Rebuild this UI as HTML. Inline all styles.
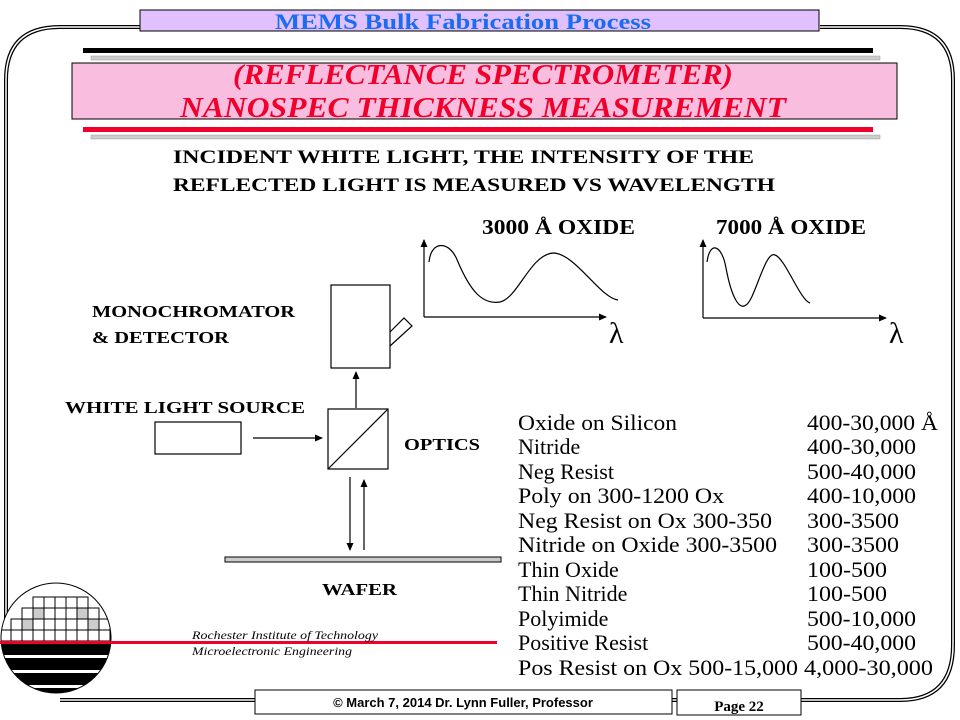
<!DOCTYPE html>
<html><head><meta charset="utf-8"><style>
html,body{margin:0;padding:0;background:#fff}
svg{display:block}
</style></head><body>
<svg width="960" height="720" viewBox="0 0 960 720" xmlns="http://www.w3.org/2000/svg" font-family="'Liberation Serif', 'Times New Roman', serif">
<defs>
<marker id="ar" markerWidth="8" markerHeight="8" refX="7" refY="4" orient="auto" markerUnits="userSpaceOnUse"><path d="M0,0.5 L8,4 L0,7.5z" fill="#000"/></marker>
<clipPath id="wc"><circle cx="56" cy="638" r="55"/></clipPath>
</defs>
<!-- frame -->
<path d="M60,700 L900,700 Q953,700 953,645 L953,80 Q953,27 900,27 L820,27 M140,27 L60,27 Q6,27 6,80 L6,645" fill="none" stroke="#000" stroke-width="4"/>
<path d="M60,700 L900,700 Q953,700 953,645 L953,80 Q953,27 900,27 L820,27 M140,27 L60,27 Q6,27 6,80 L6,645" fill="none" stroke="#fff" stroke-width="1.5"/>
<!-- title -->
<rect x="140" y="10" width="679" height="21" fill="#e0c0ff" stroke="#000" stroke-width="1"/>
<text x="275" y="29" font-family="Liberation Serif, serif" font-weight="bold" font-size="22" fill="#1a6cf0" textLength="376" lengthAdjust="spacingAndGlyphs">MEMS Bulk Fabrication Process</text>
<rect x="83" y="48" width="790" height="5" fill="#000"/>
<rect x="91" y="56" width="789" height="4" fill="#ccc" stroke="#999" stroke-width="0.5"/>
<rect x="72" y="63" width="825" height="56" fill="#f9bde0" stroke="#000" stroke-width="1"/>
<text x="483" y="84" text-anchor="middle" font-family="Liberation Serif, serif" font-weight="bold" font-style="italic" font-size="29" fill="#f0002a" textLength="500" lengthAdjust="spacingAndGlyphs">(REFLECTANCE SPECTROMETER)</text>
<text x="483" y="117" text-anchor="middle" font-family="Liberation Serif, serif" font-weight="bold" font-style="italic" font-size="29" fill="#f0002a" textLength="606" lengthAdjust="spacingAndGlyphs">NANOSPEC THICKNESS MEASUREMENT</text>
<rect x="83" y="127" width="790" height="5" fill="#f0002a"/>
<rect x="91" y="135" width="789" height="4" fill="#ccc" stroke="#999" stroke-width="0.5"/>
<g font-family="Liberation Serif, serif" font-weight="bold">
<text x="173" y="163" font-size="19" textLength="581" lengthAdjust="spacingAndGlyphs">INCIDENT WHITE LIGHT, THE INTENSITY OF THE</text>
<text x="173" y="191" font-size="19" textLength="602" lengthAdjust="spacingAndGlyphs">REFLECTED LIGHT IS MEASURED VS WAVELENGTH</text>
<text x="482" y="234" font-size="21" textLength="153" lengthAdjust="spacingAndGlyphs">3000 Å OXIDE</text>
<text x="716" y="234" font-size="21" textLength="150" lengthAdjust="spacingAndGlyphs">7000 Å OXIDE</text>
<text x="92" y="317" font-size="17" textLength="203" lengthAdjust="spacingAndGlyphs">MONOCHROMATOR</text>
<text x="92" y="343" font-size="17" textLength="137" lengthAdjust="spacingAndGlyphs">&amp; DETECTOR</text>
<text x="65" y="413" font-size="17" textLength="240" lengthAdjust="spacingAndGlyphs">WHITE  LIGHT SOURCE</text>
<text x="404" y="450" font-size="17" textLength="76" lengthAdjust="spacingAndGlyphs">OPTICS</text>
<text x="322" y="595" font-size="17" textLength="75" lengthAdjust="spacingAndGlyphs">WAFER</text>
</g>
<!-- graphs -->
<g fill="none" stroke="#000" stroke-width="1.2">
<line x1="424" y1="317" x2="424" y2="240" marker-end="url(#ar)"/>
<line x1="424" y1="317" x2="606" y2="317" marker-end="url(#ar)"/>
<path d="M429,262 C431,240 450,240 458,262 C470,290 482,305 500,302 C518,298 530,255 553,253 C575,253 600,298 618,300"/>
<line x1="703" y1="318" x2="703" y2="240" marker-end="url(#ar)"/>
<line x1="703" y1="318" x2="886" y2="318" marker-end="url(#ar)"/>
<path d="M707,262 C710,240 722,245 726,268 C732,300 740,310 746,305 C755,300 765,250 775,255 C785,258 800,300 810,303"/>
<rect x="331" y="285" width="59" height="83"/>
<path d="M390,332 L404,318 L412,326 L390,346"/>
<rect x="328" y="409" width="60" height="60"/>
<line x1="328" y1="469" x2="388" y2="409"/>
<rect x="155" y="422" width="86" height="32"/>
<line x1="356" y1="408" x2="356" y2="372" marker-end="url(#ar)"/>
<line x1="253" y1="438" x2="322" y2="438" marker-end="url(#ar)"/>
<line x1="350" y1="477" x2="350" y2="550" marker-end="url(#ar)"/>
<line x1="364" y1="550" x2="364" y2="480" marker-end="url(#ar)"/>
</g>
<rect x="225" y="557" width="276" height="5" fill="#ccc" stroke="#000" stroke-width="1"/>
<text x="609" y="343" font-family="Liberation Serif, serif" font-size="30">λ</text>
<text x="889" y="343" font-family="Liberation Serif, serif" font-size="30">λ</text>
<!-- table -->
<g font-family="Liberation Serif, serif" font-size="22">
<text x="518" y="430" textLength="159" lengthAdjust="spacingAndGlyphs">Oxide on Silicon</text><text x="807" y="430" textLength="131" lengthAdjust="spacingAndGlyphs">400-30,000 Å</text>
<text x="518" y="454">Nitride</text><text x="807" y="454" textLength="109" lengthAdjust="spacingAndGlyphs">400-30,000</text>
<text x="518" y="479">Neg Resist</text><text x="807" y="479" textLength="109" lengthAdjust="spacingAndGlyphs">500-40,000</text>
<text x="518" y="503" textLength="206" lengthAdjust="spacingAndGlyphs">Poly on 300-1200 Ox</text><text x="807" y="503" textLength="109" lengthAdjust="spacingAndGlyphs">400-10,000</text>
<text x="518" y="528" textLength="254" lengthAdjust="spacingAndGlyphs">Neg Resist on Ox 300-350</text><text x="807" y="528" textLength="92" lengthAdjust="spacingAndGlyphs">300-3500</text>
<text x="518" y="552" textLength="259" lengthAdjust="spacingAndGlyphs">Nitride on Oxide 300-3500</text><text x="807" y="552" textLength="92" lengthAdjust="spacingAndGlyphs">300-3500</text>
<text x="518" y="577">Thin Oxide</text><text x="807" y="577" textLength="80" lengthAdjust="spacingAndGlyphs">100-500</text>
<text x="518" y="601">Thin Nitride</text><text x="807" y="601" textLength="80" lengthAdjust="spacingAndGlyphs">100-500</text>
<text x="518" y="626">Polyimide</text><text x="807" y="626" textLength="109" lengthAdjust="spacingAndGlyphs">500-10,000</text>
<text x="518" y="650">Positive Resist</text><text x="807" y="650" textLength="109" lengthAdjust="spacingAndGlyphs">500-40,000</text>
<text x="518" y="675" textLength="280" lengthAdjust="spacingAndGlyphs">Pos Resist on Ox 500-15,000</text><text x="804" y="675" textLength="129" lengthAdjust="spacingAndGlyphs">4,000-30,000</text>
</g>
<!-- wafer logo -->
<g clip-path="url(#wc)">
<rect x="0" y="580" width="120" height="120" fill="#fff"/>
<g fill="#fff" stroke="#000" stroke-width="1">
<rect x="33" y="597" width="11" height="11"/><rect x="44" y="597" width="11" height="11"/><rect x="55" y="597" width="11" height="11"/><rect x="66" y="597" width="11" height="11"/><rect x="77" y="597" width="11" height="11"/>
<rect x="22" y="608" width="11" height="11"/><rect x="33" y="608" width="11" height="11" fill="#ccc"/><rect x="44" y="608" width="11" height="11"/><rect x="55" y="608" width="11" height="11"/><rect x="66" y="608" width="11" height="11"/><rect x="77" y="608" width="11" height="11" fill="#ccc"/><rect x="88" y="608" width="11" height="11"/>
<rect x="11" y="619" width="11" height="11"/><rect x="22" y="619" width="11" height="11" fill="#ccc"/><rect x="33" y="619" width="11" height="11"/><rect x="44" y="619" width="11" height="11"/><rect x="55" y="619" width="11" height="11"/><rect x="66" y="619" width="11" height="11"/><rect x="77" y="619" width="11" height="11"/><rect x="88" y="619" width="11" height="11" fill="#ccc"/><rect x="99" y="619" width="11" height="11"/>
<rect x="0" y="630" width="11" height="11"/><rect x="11" y="630" width="11" height="11"/><rect x="22" y="630" width="11" height="11"/><rect x="33" y="630" width="11" height="11"/><rect x="44" y="630" width="11" height="11"/><rect x="55" y="630" width="11" height="11"/><rect x="66" y="630" width="11" height="11"/><rect x="77" y="630" width="11" height="11"/><rect x="88" y="630" width="11" height="11"/><rect x="99" y="630" width="11" height="11"/>
</g>
<rect x="0" y="643" width="120" height="12" fill="#000"/>
<rect x="0" y="658" width="120" height="12" fill="#000"/>
<rect x="0" y="673" width="120" height="12" fill="#000"/>
<rect x="0" y="688" width="120" height="12" fill="#000"/>
</g>
<circle cx="56" cy="638" r="55" fill="none" stroke="#000" stroke-width="1"/>
<rect x="0" y="641" width="497" height="3" fill="#f0002a"/>
<text x="192" y="639" font-family="Liberation Serif, serif" font-size="12" font-style="italic" textLength="186" lengthAdjust="spacingAndGlyphs">Rochester Institute of Technology</text>
<text x="192" y="655" font-family="Liberation Serif, serif" font-size="12" font-style="italic" textLength="160" lengthAdjust="spacingAndGlyphs">Microelectronic Engineering</text>
<!-- footer -->
<rect x="255" y="690" width="417" height="24" fill="#fff" stroke="#000"/>
<text x="463" y="707" text-anchor="middle" font-size="13" font-family="Liberation Sans, sans-serif" font-weight="bold">© March 7, 2014 Dr. Lynn Fuller, Professor</text>
<rect x="677" y="690" width="124" height="25" fill="#fff" stroke="#000"/>
<text x="739" y="711" text-anchor="middle" font-family="Liberation Serif, serif" font-weight="bold" font-size="15">Page 22</text>
</svg>
</body></html>
